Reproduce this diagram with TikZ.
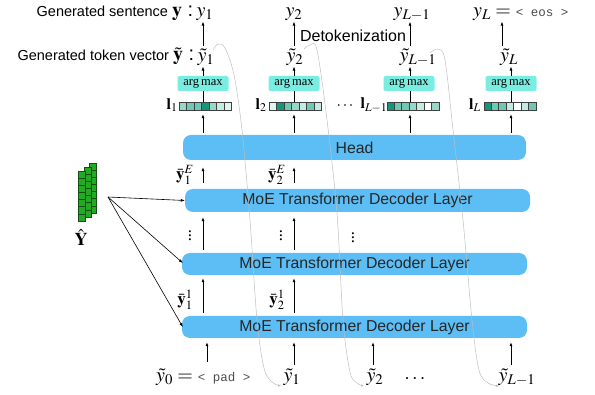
\documentclass[tikz,border=0pt]{standalone}
\usepackage{mathptmx}
\usepackage{fontspec}
\setmainfont{Liberation Serif}
\setsansfont{Liberation Sans}
\setmonofont{Liberation Mono}
\usetikzlibrary{arrows.meta,calc}
\definecolor{layerblue}{RGB}{92,190,245}
\definecolor{argcyan}{RGB}{122,236,224}
\definecolor{tdark}{RGB}{20,150,120}
\definecolor{tmid}{RGB}{110,200,180}
\definecolor{tml}{RGB}{150,215,200}
\definecolor{tlight}{RGB}{195,235,225}
\definecolor{tlt}{RGB}{225,245,240}
\definecolor{brick}{RGB}{34,170,34}
\definecolor{brickline}{RGB}{20,80,20}
\newcommand{\ttsmall}[1]{{\ttfamily\fontsize{12.5}{14}\selectfont\color{black!70}#1}}
\begin{document}
\begin{tikzpicture}[x=1pt,y=-1pt,
  layer/.style={fill=layerblue, rounded corners=8pt, inner sep=0pt,
    font=\sffamily\fontsize{15.8}{18}\selectfont, text=black!85},
  amx/.style={fill=argcyan, rounded corners=2pt, minimum width=51pt,
    minimum height=15pt, inner sep=0pt, font=\fontsize{12.5}{14}\selectfont},
  lab/.style={inner sep=0pt, font=\fontsize{20}{22}\selectfont},
  llab/.style={inner sep=0.5pt, font=\fontsize{16}{18}\selectfont},
  slab/.style={inner sep=1pt, font=\fontsize{17}{19}\selectfont},
  txt/.style={inner sep=1pt, font=\sffamily\fontsize{14.5}{16}\selectfont},
  arr/.style={-{Latex[length=4pt,width=3pt]}, line width=0.7pt, black},
  fb/.style={-{Latex[length=3pt,width=2.5pt]}, line width=0.5pt, black!25},
  vecbox/.style={minimum width=52pt, minimum height=8pt, inner sep=0pt}
]
\useasboundingbox (0,0) rectangle (595,395);

% column coordinates
\coordinate (c1) at (203,0);
\coordinate (c2) at (294,0);
\coordinate (c3) at (410,0);
\coordinate (c4) at (511,0);

% layers
\node[layer, minimum width=343pt, minimum height=25pt] (head) at (354.5,147.5) {Head};
\node[layer, minimum width=345pt, minimum height=23pt] (m3) at (357.5,200.5) {MoE Transformer Decoder Layer};
\node[layer, minimum width=345pt, minimum height=22pt] (m2) at (354.5,264) {MoE Transformer Decoder Layer};
\node[layer, minimum width=345pt, minimum height=22pt] (m1) at (354.5,327) {MoE Transformer Decoder Layer};

% argmax boxes
\node[amx] (a1) at (203,83.5) {arg\,max};
\node[amx] (a2) at (294,83.5) {arg\,max};
\node[amx] (a3) at (409,83.5) {arg\,max};
\node[amx] (a4) at (511,83.5) {arg\,max};

% token vectors
\node[vecbox] (v1) at (205.5,106) {};
\node[vecbox] (v2) at (295.5,106) {};
\node[vecbox] (v3) at (413,106) {};
\node[vecbox] (v4) at (510,106) {};
\foreach \v/\cols in {v1/{tml,tmid,tmid,tdark,tml,tlight,tlt},
                      v2/{tlt,tdark,tmid,tml,tlight,tmid,tlight},
                      v3/{tdark,tmid,tmid,tml,tlight,white,tml},
                      v4/{tdark,tmid,tmid,tlight,white,tlight,tmid}}{
  \foreach \c [count=\i from 0] in \cols {
    \filldraw[fill=\c, draw=black!75, line width=0.5pt]
      ($(\v.north west)+(\i*7.4286,0)$) rectangle ++(7.4286,8);
  }
}

% l labels
\node[llab] (l1) at (172,105) {$\mathbf{l}_1$};
\node[llab] (l2) at (261,105) {$\mathbf{l}_2$};
\node[llab] (ldots) at (345,106) {$\cdots$};
\node[llab] (l3) at (374,105) {$\mathbf{l}_{L-1}$};
\node[llab] (l4) at (475,105) {$\mathbf{l}_L$};

% tilde y row
\node[lab] (ty1) at (206,57) {$\tilde{y}_1$};
\node[lab] (ty2) at (295,57) {$\tilde{y}_2$};
\node[lab] (ty3) at (418,57) {$\tilde{y}_{L-1}$};
\node[lab] (ty4) at (509,57) {$\tilde{y}_L$};
\node[txt, anchor=east] (gtv) at ($(ty1.west)+(-2,-1)$) {Generated token vector \fontsize{20}{22}\selectfont$\tilde{\mathbf{y}}$ :};

% y row
\node[lab] (y1) at (205,14) {$y_1$};
\node[lab] (y2) at (294,14) {$y_2$};
\node[lab] (y3) at (412,14) {$y_{L-1}$};
\node[lab, anchor=west] (y4) at (473,14) {$y_L =$ \ttsmall{< eos >}};
\node[txt, anchor=east] (gs) at ($(y1.west)+(-2,-1)$) {Generated sentence \fontsize{20}{22}\selectfont$\mathbf{y}$ :};
\node[txt, font=\sffamily\fontsize{16}{18}\selectfont] (detok) at (353,36) {Detokenization};

% bottom inputs
\node[lab, anchor=west] (b0) at (156,377) {$\tilde{y}_0 =$ \ttsmall{< pad >}};
\node[lab] (b1) at (292,377) {$\tilde{y}_1$};
\node[lab] (b2) at (375,377) {$\tilde{y}_2$};
\node[lab] (bdots) at (415,379) {$\cdots$};
\node[lab] (b3) at (517,377) {$\tilde{y}_{L-1}$};
\coordinate (b0a) at (207,362);

% bar labels and dots
\node[slab] (e1) at (185,175) {$\bar{\mathbf{y}}_1^E$};
\node[slab] (e2) at (277,175) {$\bar{\mathbf{y}}_2^E$};
\node[slab] (f1) at (185,300) {$\bar{\mathbf{y}}_1^1$};
\node[slab] (f2) at (277,300) {$\bar{\mathbf{y}}_2^1$};
\node[slab] (d1) at (190,233) {$\vdots$};
\node[slab] (d2) at (281,233) {$\vdots$};
\node[slab] (d3) at (353,235) {$\vdots$};

% arrows top
\draw[arr, shorten <=2pt, shorten >=1pt] (ty1.north -| c1) -- (y1.south -| c1);
\draw[arr, shorten <=2pt, shorten >=1pt] (ty2.north -| c2) -- (y2.south -| c2);
\draw[arr, shorten <=2pt, shorten >=1pt] (ty3.north -| c3) -- (y3.south -| c3);
\coordinate (c4top) at (502,0);
\draw[arr, shorten <=2pt, shorten >=1pt] (ty4.north -| c4top) -- (y4.south -| c4top);
\foreach \i/\c in {1/c1,2/c2,3/c3,4/c4}{
  \draw[arr, shorten >=1pt] (a\i.north -| \c) -- (ty\i.south -| \c);
  \draw[line width=0.7pt] (v\i.north -| \c) -- (a\i.south -| \c);
  \draw[arr, shorten <=2pt, shorten >=4pt] (head.north -| \c) -- (v\i.south -| \c);
}
% arrows between layers
\foreach \c in {c1,c2}{
  \draw[arr, shorten <=6pt, shorten >=7pt] (m3.north -| \c) -- (head.south -| \c);
  \draw[arr, shorten <=3pt, shorten >=5pt] (m2.north -| \c) -- (m3.south -| \c);
  \draw[arr, shorten <=3pt, shorten >=3pt] (m1.north -| \c) -- (m2.south -| \c);
}
% bottom arrows
\draw[arr, shorten >=4pt] (b0a) -- (b0a |- m1.south);
\draw[arr, shorten <=3pt, shorten >=4pt] (b1.north -| c2) -- (m1.south -| c2);
\draw[arr, shorten <=3pt, shorten >=4pt] ($(b2.north)+(-2,0)$) -- ($(b2.north |- m1.south)+(-2,0)$);
\draw[arr, shorten <=3pt, shorten >=4pt] (b3.north -| c4) -- (m1.south -| c4);

% feedback curves
\draw[fb] plot[smooth, tension=0.55] coordinates {(213,50) (218,44) (225,48) (234,75) (242,130) (250,220) (257,320) (264,368) (272,382) (281,386)};
\draw[fb] plot[smooth, tension=0.55] coordinates {(304,49) (310,45) (317,50) (327,120) (337,213) (343,320) (350,372) (357,383) (364,386)};
\draw[fb] plot[smooth, tension=0.55] coordinates {(430,53) (438,49) (445,60) (453,130) (463,220) (472,320) (479,370) (488,383) (499,386)};

% Y hat icon
\foreach \xo/\yo in {89/163, 84/167, 78/171}{
  \foreach \k in {0,...,6}{
    \filldraw[fill=brick, draw=brickline, line width=0.5pt]
      (\xo,\yo+\k*7.15) rectangle ++(7.5,7.15);
  }
}
\node[slab, font=\fontsize{18}{20}\selectfont] (yhat) at (81,237) {$\hat{\mathbf{Y}}$};
\coordinate (src) at (108,197);
\draw[arr, line width=0.6pt] (src) -- (m3.west);
\draw[arr, line width=0.6pt] (src) -- ($(m2.west)+(1,-1)$);
\draw[arr, line width=0.6pt] (src) -- ($(m1.west)+(1,0)$);
\end{tikzpicture}
\end{document}
